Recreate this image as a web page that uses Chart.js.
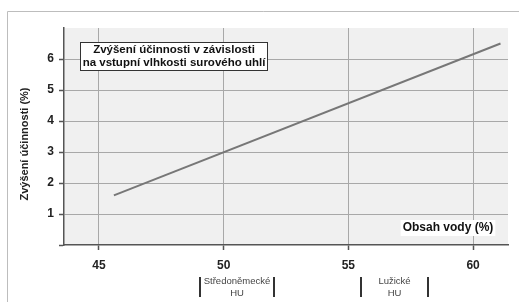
<!DOCTYPE html>
<html>
<head>
<meta charset="utf-8">
<script src="https://cdn.jsdelivr.net/npm/chart.js@4"></script>
<style>
  html, body { margin: 0; padding: 0; background: #fff; }
  #wrap { width: 519px; height: 302px; position: relative; }
</style>
</head>
<body>
<div id="wrap"><canvas id="c"></canvas></div>
<script>
// data
const waterContent = [45.6, 61.1];     // obsah vody (%)
const efficiencyGain = [1.6, 6.5];     // zvýšení účinnosti (%)
const xTicks = [45, 50, 55, 60];
const yTicks = [1, 2, 3, 4, 5, 6];
const regionNames = [['Středoněmecké', 'HU'], ['Lužické', 'HU']];
const regionFrom = [49.05, 55.5];
const regionTo = [52.0, 58.2];

const FONT = '"Liberation Sans", Arial, sans-serif';

const decor = {
  id: 'decor',
  beforeDraw(chart) {
    const { ctx, chartArea: a } = chart;
    ctx.save();
    // outer frame
    ctx.strokeStyle = '#bdbdbd';
    ctx.lineWidth = 1;
    ctx.beginPath();
    ctx.moveTo(7.5, 302);
    ctx.lineTo(7.5, 11.5);
    ctx.lineTo(519, 11.5);
    ctx.stroke();
    // plot background
    ctx.fillStyle = '#f0f0f0';
    ctx.fillRect(a.left, a.top, a.right - a.left, a.bottom - a.top);
    ctx.restore();
  },
  afterDraw(chart) {
    const { ctx } = chart;
    const xs = chart.scales.x;
    ctx.save();

    // y axis title
    ctx.translate(25, 144);
    ctx.rotate(-Math.PI / 2);
    ctx.font = 'bold 11px ' + FONT;
    ctx.fillStyle = '#222';
    ctx.textAlign = 'center';
    ctx.textBaseline = 'middle';
    ctx.fillText('Zvýšení účinnosti (%)', 0, 0);
    ctx.setTransform(1, 0, 0, 1, 0, 0);

    // title box
    ctx.fillStyle = '#fff';
    ctx.fillRect(80, 42, 188, 29);
    ctx.strokeStyle = '#333';
    ctx.lineWidth = 1;
    ctx.strokeRect(80.5, 42.5, 187, 28);
    ctx.fillStyle = '#111';
    ctx.font = 'bold 11.5px ' + FONT;
    ctx.textAlign = 'center';
    ctx.textBaseline = 'middle';
    ctx.fillText('Zvýšení účinnosti v závislosti', 174, 50);
    ctx.fillText('na vstupní vlhkosti surového uhlí', 174, 63);

    // x axis title
    ctx.font = 'bold 12px ' + FONT;
    const t = 'Obsah vody (%)';
    const w = ctx.measureText(t).width;
    ctx.fillStyle = '#fff';
    ctx.fillRect(448 - w / 2 - 2, 220, w + 4, 16);
    ctx.fillStyle = '#111';
    ctx.fillText(t, 448, 228);

    // coal region ranges under the axis
    ctx.font = '9.5px ' + FONT;
    for (let i = 0; i < regionNames.length; i++) {
      const x1 = Math.round(xs.getPixelForValue(regionFrom[i]));
      const x2 = Math.round(xs.getPixelForValue(regionTo[i]));
      ctx.strokeStyle = '#333';
      ctx.lineWidth = 2;
      ctx.beginPath();
      ctx.moveTo(x1, 277); ctx.lineTo(x1, 297);
      ctx.moveTo(x2, 277); ctx.lineTo(x2, 297);
      ctx.stroke();
      ctx.fillStyle = '#444';
      ctx.fillText(regionNames[i][0], (x1 + x2) / 2, 281);
      ctx.fillText(regionNames[i][1], (x1 + x2) / 2, 293);
    }
    ctx.restore();
  }
};

new Chart(document.getElementById('c'), {
  type: 'line',
  data: {
    datasets: [{
      data: waterContent.map((x, i) => ({ x: x, y: efficiencyGain[i] })),
      borderColor: '#777',
      borderWidth: 2,
      pointRadius: 0,
      fill: false
    }]
  },
  options: {
    responsive: true,
    maintainAspectRatio: false,
    animation: false,
    layout: { padding: { left: 0, top: 28, right: 11, bottom: 0 } },
    plugins: { legend: { display: false }, tooltip: { enabled: false } },
    scales: {
      x: {
        type: 'linear',
        min: 43.6,
        max: 61.4,
        afterBuildTicks: (s) => { s.ticks = xTicks.map(v => ({ value: v })); },
        afterFit: (s) => { s.height = 57; },
        grid: {
          color: '#a8a8a8',
          borderDash: [1, 2],
          tickLength: 5,
          tickColor: '#555',
          tickBorderDash: [],
          tickWidth: 1.5
        },
        border: { color: '#555', width: 1.5 },
        ticks: {
          padding: 8,
          color: '#222',
          font: { family: FONT, size: 12, weight: 'bold' }
        }
      },
      y: {
        min: 0,
        max: 7,
        afterBuildTicks: (s) => { s.ticks = [0].concat(yTicks).map(v => ({ value: v })); },
        afterFit: (s) => { s.width = 64; },
        grid: {
          color: (c) => (c.tick && c.tick.value === 0) ? 'transparent' : '#a8a8a8',
          borderDash: [1, 2],
          tickLength: 5,
          tickColor: '#555',
          tickBorderDash: [],
          tickWidth: 1.5
        },
        border: { color: '#555', width: 1.5 },
        ticks: {
          padding: 5,
          color: '#222',
          callback: (v) => v === 0 ? '' : v,
          font: { family: FONT, size: 12, weight: 'bold' }
        }
      }
    }
  },
  plugins: [decor]
});
</script>
</body>
</html>
